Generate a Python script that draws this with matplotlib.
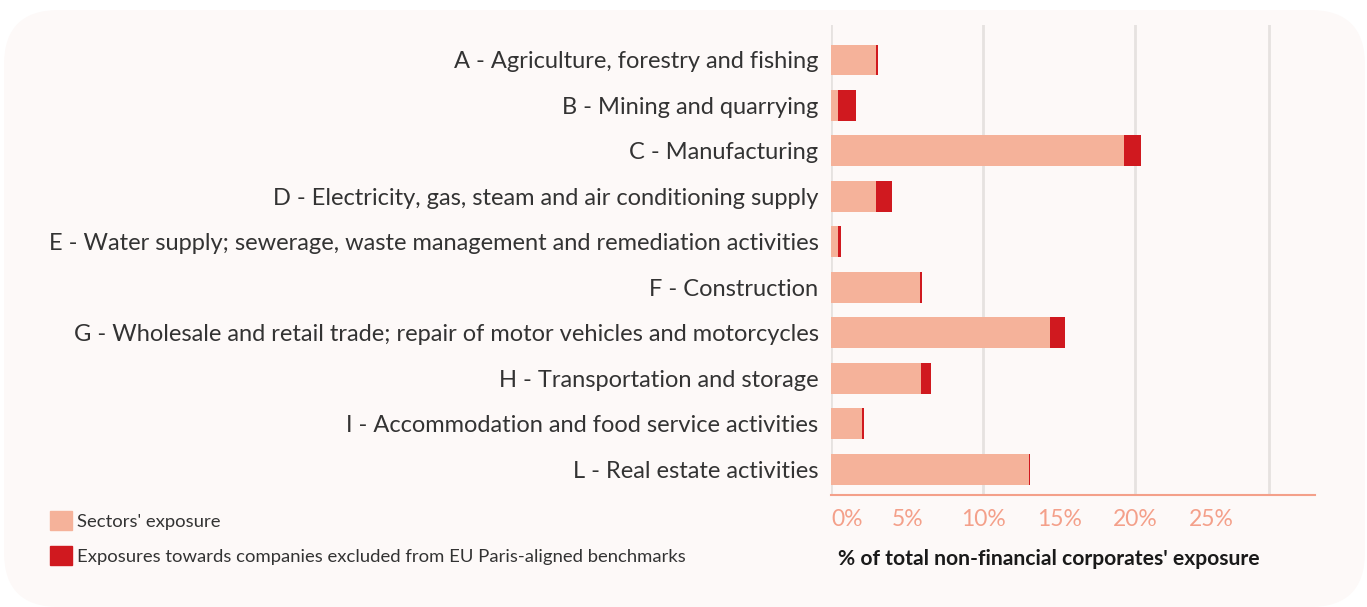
import matplotlib.pyplot as plt
from matplotlib.patches import FancyBboxPatch, Patch

# sector exposure data (% of total non-financial corporates' exposure)
sectors = [
    "A - Agriculture, forestry and fishing",
    "B - Mining and quarrying",
    "C - Manufacturing",
    "D - Electricity, gas, steam and air conditioning supply",
    "E - Water supply; sewerage, waste management and remediation activities",
    "F - Construction",
    "G - Wholesale and retail trade; repair of motor vehicles and motorcycles",
    "H - Transportation and storage",
    "I - Accommodation and food service activities",
    "L - Real estate activities",
]
sector_exposure = [2.95, 0.46, 19.28, 2.96, 0.46, 5.86, 14.37, 5.92, 2.06, 12.98]
excluded = [0.15, 1.18, 1.08, 1.05, 0.22, 0.13, 0.99, 0.66, 0.08, 0.11]
tick_vals = [0, 5, 10, 15, 20, 25]
tick_labels = ["0%", "5%", "10%", "15%", "20%", "25%"]
grid_vals = [0, 10, 20, 28.8]

PINK = "#F5B29A"
RED = "#D0191F"
SALMON = "#F4A08A"
CARD = "#FDF9F8"

plt.rcParams['font.family'] = ["Lato", "DejaVu Sans"]

fig = plt.figure(figsize=(13.67, 6.07), dpi=100)
fig.patch.set_facecolor("white")

# rounded card background
card = FancyBboxPatch((4 / 1367, 0.0), 1361 / 1367, 597 / 607,
                      boxstyle="round,pad=0,rounding_size=0.04",
                      transform=fig.transFigure, facecolor=CARD,
                      edgecolor="none", zorder=-5, mutation_aspect=1367 / 607)
fig.patches.append(card)

ax = fig.add_axes([831 / 1367, 1 - 495 / 607, 484 / 1367, 470 / 607])
ax.set_facecolor("none")
ax.set_zorder(2)

y = list(range(len(sectors)))
ax.barh(y, sector_exposure, height=0.68, color=PINK, zorder=3)
ax.barh(y, excluded, left=sector_exposure, height=0.68, color=RED, zorder=3)

for g in grid_vals:
    ax.axvline(g, color="#E6E2E0", lw=2, zorder=1)

ax.set_xlim(0, 31.8)
ax.set_ylim(9.57, -0.77)

ax.set_yticks(y)
ax.set_yticklabels(sectors, fontsize=17, color="#333333")
ax.set_xticks(tick_vals)
ax.set_xticklabels(tick_labels, fontsize=16.5, color=SALMON)
ax.get_xticklabels()[0].set_ha("left")
ax.tick_params(axis="y", length=0, pad=9)
ax.tick_params(axis="x", length=0, pad=10)

for s in ["top", "right", "left"]:
    ax.spines[s].set_visible(False)
ax.spines["bottom"].set_color(SALMON)
ax.spines["bottom"].set_linewidth(1.5)
ax.spines["bottom"].set_zorder(4)

ax.set_xlabel("% of total non-financial corporates' exposure",
              fontsize=15.2, fontweight="bold", color="#1A1A1A")
ax.xaxis.label.set_ha("left")
ax.xaxis.label.set_va("center")
ax.xaxis.set_label_coords(7 / 484, -64 / 470)

handles = [Patch(color=PINK, label="Sectors' exposure"),
           Patch(color=RED, label="Exposures towards companies excluded from EU Paris-aligned benchmarks")]
leg = fig.legend(handles=handles, loc="upper left",
                 bbox_to_anchor=(46 / 1367, 1 - 507 / 607),
                 frameon=False, fontsize=13.3, handlelength=1.2,
                 handleheight=1.25, handletextpad=0.3, labelspacing=0.85,
                 borderpad=0.2, borderaxespad=0)
for t in leg.get_texts():
    t.set_color("#333333")

fig.savefig("out.png", dpi=100, facecolor="white")
